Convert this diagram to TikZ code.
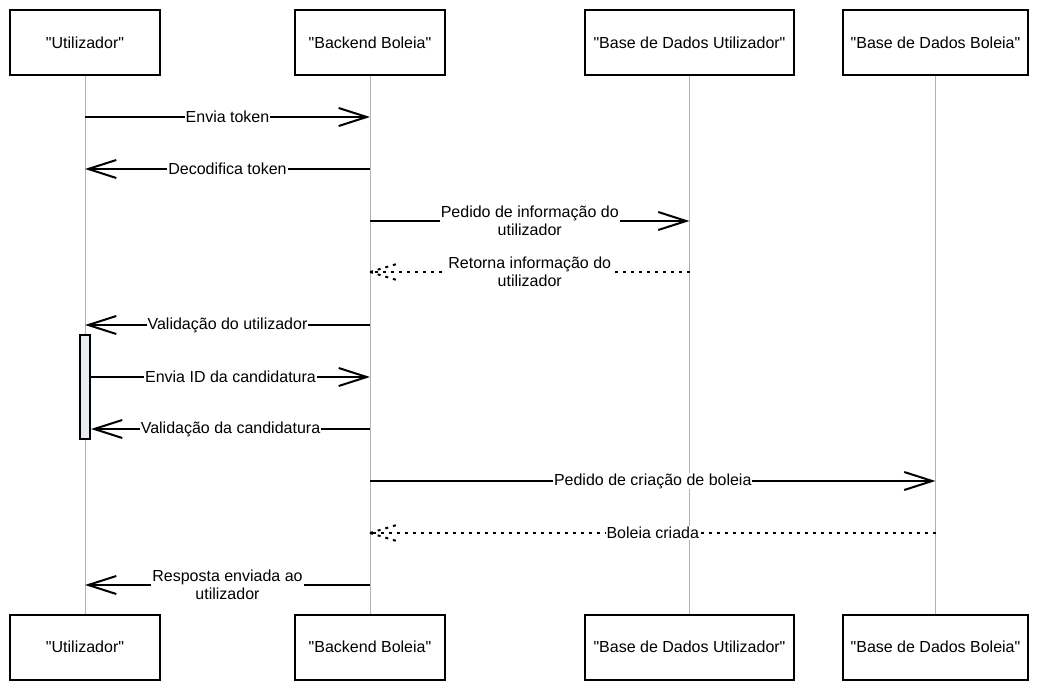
\documentclass[tikz,border=0pt]{standalone}
\usepackage{fontspec}
\setmainfont{Liberation Sans}
\usetikzlibrary{arrows.meta}
\definecolor{actfill}{RGB}{232,236,240}

\begin{document}
\begin{tikzpicture}[x=1pt,y=-1pt,font=\fontsize{16}{18}\selectfont,
  actor/.style={draw, line width=2pt, minimum height=65pt, inner sep=0pt},
  life/.style={draw=black!30, line width=1pt},
  msg/.style={draw, line width=2pt, -{Straight Barb[length=28pt,width=18pt]}},
  reply/.style={draw, line width=2pt, dash pattern=on 3pt off 5pt},
  lbl/.style={fill=white, inner sep=1pt, align=center}]
\useasboundingbox (0,0) rectangle (1037,690);

\node[actor, minimum width=150pt] (ut) at (85,42.5) {\textquotedbl Utilizador\textquotedbl};
\node[actor, minimum width=150pt] (bk) at (370,42.5) {\textquotedbl Backend Boleia\textquotedbl};
\node[actor, minimum width=209pt] (bu) at (689.5,42.5) {\textquotedbl Base de Dados Utilizador\textquotedbl};
\node[actor, minimum width=185pt] (bb) at (935.5,42.5) {\textquotedbl Base de Dados Boleia\textquotedbl};

\node[actor, minimum width=150pt] (utb) at (85,647) {\textquotedbl Utilizador\textquotedbl};
\node[actor, minimum width=150pt] (bkb) at (370,647) {\textquotedbl Backend Boleia\textquotedbl};
\node[actor, minimum width=209pt] (bub) at (689.5,647) {\textquotedbl Base de Dados Utilizador\textquotedbl};
\node[actor, minimum width=185pt] (bbb) at (935.5,647) {\textquotedbl Base de Dados Boleia\textquotedbl};

\path[life] (ut) -- (utb);
\path[life] (bk) -- (bkb);
\path[life] (bu) -- (bub);
\path[life] (bb) -- (bbb);

\node[draw, line width=2pt, fill=actfill, minimum width=10pt, minimum height=104pt, inner sep=0pt] (act) at (85,387) {};

\coordinate (m1) at (0,117);
\coordinate (m2) at (0,169);
\coordinate (m3) at (0,221);
\coordinate (m4) at (0,272);
\coordinate (m5) at (0,325);
\coordinate (m6) at (0,377);
\coordinate (m7) at (0,429);
\coordinate (m8) at (0,481);
\coordinate (m9) at (0,533);
\coordinate (m10) at (0,585);

\path[msg] (ut |- m1) -- node[lbl] {Envia token} (bk |- m1);
\path[msg] (bk |- m2) -- node[lbl] {Decodifica token} (ut |- m2);
\path[msg] (bk |- m3) -- node[lbl] {Pedido de informação do\\utilizador} (bu |- m3);
\path[reply] (bu |- m4) -- node[lbl] {Retorna informação do\\utilizador} (bk |- m4);
\path[reply] (bk |- m4) -- ++(30,-9);
\path[reply] (bk |- m4) -- ++(30,9);
\path[msg] (bk |- m5) -- node[lbl] {Validação do utilizador} (ut |- m5);
\path[msg] (act.east |- m6) -- node[lbl] {Envia ID da candidatura} (bk |- m6);
\path[msg] (bk |- m7) -- node[lbl] {Validação da candidatura} (act.east |- m7);
\path[msg] (bk |- m8) -- node[lbl] {Pedido de criação de boleia} (bb |- m8);
\path[reply] (bb |- m9) -- node[lbl] {Boleia criada} (bk |- m9);
\path[reply] (bk |- m9) -- ++(30,-9);
\path[reply] (bk |- m9) -- ++(30,9);
\path[msg] (bk |- m10) -- node[lbl] {Resposta enviada ao\\utilizador} (ut |- m10);
\end{tikzpicture}
\end{document}
